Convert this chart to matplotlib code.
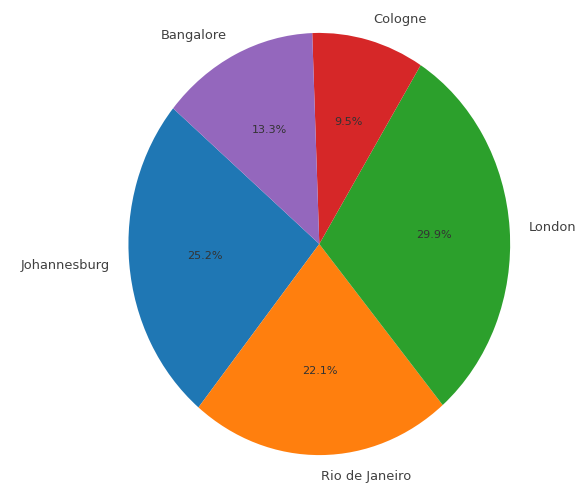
import matplotlib
matplotlib.use("Agg")
import matplotlib.pyplot as plt

cities = ["Johannesburg", "Rio de Janeiro", "London", "Cologne", "Bangalore"]
shares = [25.2, 22.1, 29.9, 9.5, 13.3]
colors = ["#1f77b4", "#ff7f0e", "#2ca02c", "#d62728", "#9467bd"]

fig = plt.figure(figsize=(5.84, 4.84), dpi=100)
ax = fig.add_axes([0, 0, 1, 1])
wedges, texts, autotexts = ax.pie(
    shares, labels=cities, colors=colors, autopct="%1.1f%%",
    startangle=140, counterclock=True,
    textprops={"fontsize": 9.4, "color": "#404040"},
)
for t in autotexts:
    t.set_fontsize(8)
    t.set_color("#333333")
ax.set_xlim(-1.673, 1.387)
ax.set_ylim(-1.137, 1.156)
ax.set_aspect("auto")
ax.axis("off")
fig.savefig("out.png", dpi=100)
